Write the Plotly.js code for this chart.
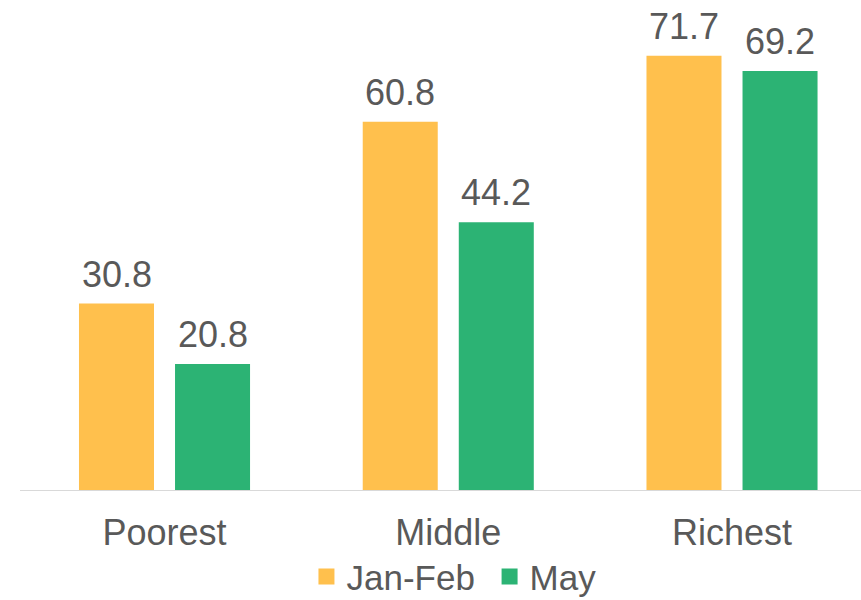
<!DOCTYPE html>
<html>
<head>
<meta charset="utf-8">
<script src="https://cdn.plot.ly/plotly-3.0.1.min.js"></script>
<style>html,body{margin:0;padding:0;background:#fff;}#chart{width:861px;height:600px;}</style>
</head>
<body>
<div id="chart"></div>
<script>
const categories = ["Poorest", "Middle", "Richest"];
const seriesNames = ["Jan-Feb", "May"];
const janFeb = [30.8, 60.8, 71.7];
const may = [20.8, 44.2, 69.2];
const colors = ["#FFC04D", "#2CB374"];
const textColor = "#595959";
const font = "Liberation Sans, Arial, Helvetica, sans-serif";

const fmt = v => v.toFixed(1);
const values = [janFeb, may];
const slotShift = [-48, 48];

const traces = values.map((vals, i) => ({
  type: "bar",
  x: categories,
  y: vals,
  name: seriesNames[i],
  marker: {color: colors[i]},
  showlegend: false,
  hoverinfo: "skip"
}));

// legend entries with larger square symbols
values.forEach((vals, i) => {
  traces.push({
    type: "scatter",
    mode: "markers",
    x: [null],
    y: [null],
    name: seriesNames[i] + (i === 0 ? "\u00a0" : ""),
    marker: {symbol: "square", size: 16, color: colors[i]},
    showlegend: true
  });
});

const annotations = [];
values.forEach((vals, i) => {
  vals.forEach((v, j) => {
    annotations.push({
      x: categories[j],
      y: v,
      xref: "x",
      yref: "y",
      text: fmt(v),
      showarrow: false,
      xanchor: "center",
      yanchor: "bottom",
      xshift: slotShift[i],
      yshift: 7,
      font: {size: 36, color: textColor, family: font}
    });
  });
});

const layout = {
  width: 861,
  height: 600,
  margin: {l: 20, r: 0, t: 5, b: 110, autoexpand: false},
  paper_bgcolor: "#ffffff",
  plot_bgcolor: "#ffffff",
  barmode: "group",
  bargap: 0.323,
  bargroupgap: 0.219,
  font: {family: font, color: textColor},
  annotations: annotations,
  xaxis: {
    type: "category",
    range: [-0.5093, 2.4546],
    showline: true,
    linecolor: "#d9d9d9",
    linewidth: 1,
    ticks: "",
    ticklabelstandoff: 11,
    showgrid: false,
    zeroline: false,
    automargin: false,
    tickfont: {size: 36, color: textColor, family: font}
  },
  yaxis: {
    range: [0, 80.1],
    visible: false,
    showgrid: false,
    zeroline: false
  },
  legend: {
    orientation: "h",
    x: 0.516,
    xanchor: "center",
    y: -0.179,
    yanchor: "middle",
    font: {size: 35, color: textColor, family: font},
    tracegroupgap: 0
  },
  showlegend: true
};

Plotly.newPlot("chart", traces, layout, {displayModeBar: false, staticPlot: true});
</script>
</body>
</html>
